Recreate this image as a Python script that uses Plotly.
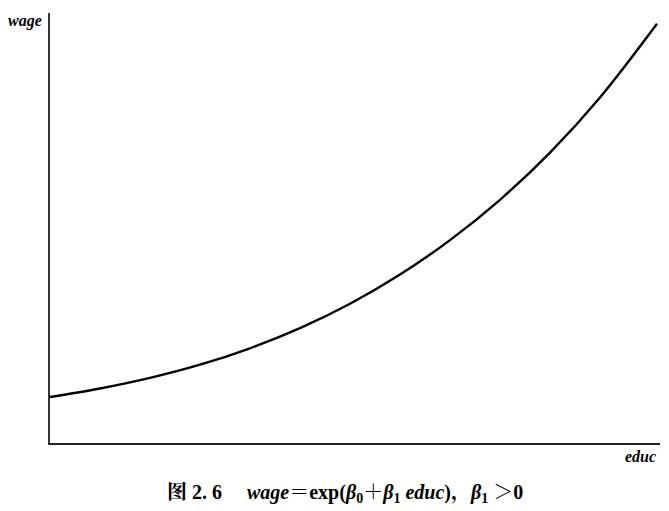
import plotly.graph_objects as go

# points (educ, wage) in chart units
educ = [0, 50, 100, 150, 200, 250, 300, 350, 400, 450, 500, 550, 607]
wage = [46, 54.5, 65.1, 78.3, 94.7, 114.8, 139.2, 168.4, 202.9, 243.2, 290.4, 345.5, 419.2]

x_label = "educ"
y_label = "wage"
caption = ("<b>图 2. 6</b>     <b><i>wage</i>＝exp(<i>β</i><sub>0</sub>＋<i>β</i><sub>1</sub> "
           "<i>educ</i>)，<i>β</i><sub>1</sub> ＞0</b>")

serif = "Liberation Serif, 'Noto Serif CJK SC', 'Noto Sans CJK SC', serif"

fig = go.Figure()
fig.add_trace(go.Scatter(
    x=educ, y=wage, mode="lines",
    line=dict(color="black", width=2.4, shape="spline", smoothing=1.0),
    hoverinfo="skip", showlegend=False,
))

fig.update_xaxes(range=[0, 610], showline=True, linecolor="#222", linewidth=1.8,
                 showgrid=False, zeroline=False, showticklabels=False, ticks="")
fig.update_yaxes(range=[0, 430], showline=True, linecolor="#333", linewidth=1.5,
                 showgrid=False, zeroline=False, showticklabels=False, ticks="")

fig.add_annotation(text=f"<b><i>{y_label}</i></b>", xref="paper", yref="paper",
                   x=0, y=1, xanchor="right", yanchor="top", xshift=-6, yshift=3,
                   showarrow=False, font=dict(family=serif, size=16, color="black"))
fig.add_annotation(text=f"<b><i>{x_label}</i></b>", xref="paper", yref="paper",
                   x=1, y=0, xanchor="right", yanchor="top", xshift=-2, yshift=-3,
                   showarrow=False, font=dict(family=serif, size=16, color="black"))
fig.add_annotation(text=caption, xref="paper", yref="paper",
                   x=0.484, y=0, xanchor="center", yanchor="middle", yshift=-50,
                   showarrow=False, font=dict(family=serif, size=20, color="black"))

# page body adds an 8px margin, so the figure is sized to fit the window
fig.update_layout(
    width=661, height=503,
    margin=dict(l=42, r=9, t=5, b=68),
    plot_bgcolor="white", paper_bgcolor="white",
)

fig.write_html("out.html")
